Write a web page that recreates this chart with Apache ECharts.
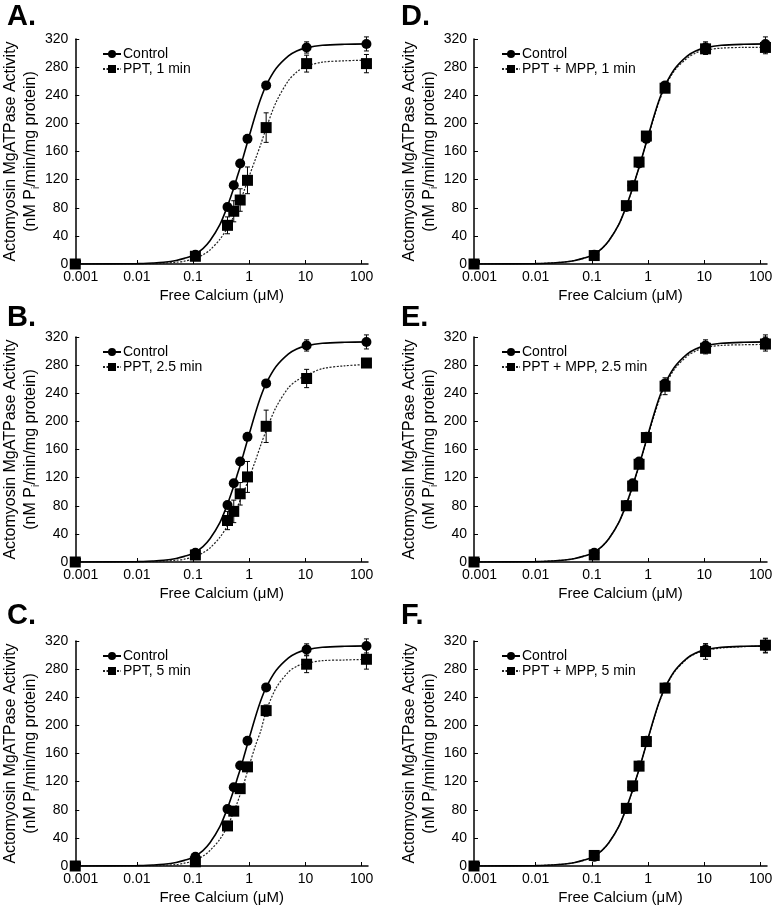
<!DOCTYPE html>
<html>
<head>
<meta charset="utf-8">
<script src="https://cdn.jsdelivr.net/npm/echarts@6/dist/echarts.min.js"></script>
<style>
    html, body { margin: 0; padding: 0; background: #fff; }
    #chart { width: 776px; height: 909px; }
</style>
</head>
<body>
<div id="chart"></div>
<script>
// free calcium (uM) of the measured points; the zero-calcium point sits at the axis start
const concentrations = [0.0008, 0.11, 0.41, 0.53, 0.69, 0.93, 2.0, 10.5, 122];

const controlActivity = [0, 13, 81, 112, 143, 178, 254, 308, 313];
const controlError = [0, 3, 4, 4, 4, 5, 4, 8, 10];

const ppt1Activity = [0, 11, 55, 75, 91, 119, 194, 285, 285];
const ppt1Error = [0, 3, 12, 15, 16, 19, 21, 12, 13];
const ppt25Activity = [0, 10, 59, 72, 97, 121, 193, 261, 283];
const ppt25Error = [0, 3, 13, 16, 16, 22, 23, 13, 3];
const ppt5Activity = [0, 6, 57, 78, 110, 141, 221, 287, 294];
const ppt5Error = [0, 3, 4, 5, 5, 6, 8, 12, 14];
const mpp1Activity = [0, 12, 83, 111, 145, 182, 250, 306, 308];
const mpp1Error = [0, 3, 4, 4, 5, 5, 5, 8, 9];
const mpp25Activity = [0, 10, 80, 108, 139, 177, 250, 304, 310];
const mpp25Error = [0, 3, 4, 4, 5, 5, 12, 8, 10];
const mpp5Activity = [0, 15, 82, 114, 142, 177, 253, 305, 314];
const mpp5Error = [0, 3, 4, 5, 4, 5, 5, 11, 10];

// fitted curves at these calcium levels
const curveX = [0.0008, 0.01, 0.02, 0.03, 0.05, 0.07, 0.1, 0.15, 0.2, 0.3, 0.4, 0.5, 0.6, 0.7, 0.8, 1, 1.3, 1.6, 2, 3, 5, 7, 10, 20, 50, 130];
const controlCurve = [0, 0.5, 1.5, 2.5, 5, 8, 12, 22, 33, 56, 80, 102, 122, 139, 155, 182, 213, 235, 254, 278, 296, 303, 307, 311, 312.5, 313];
const ppt1Curve = [0, 0.2, 0.5, 1, 2.5, 4, 7, 13, 20, 35, 50, 64, 78, 91, 103, 125, 150, 170, 193, 230, 261, 273, 281, 287, 289, 290];
const ppt25Curve = [0, 0.2, 0.5, 1, 2.5, 4, 7, 13, 20, 35, 50, 63, 76, 89, 100, 120, 145, 166, 187, 220, 248, 258, 265, 275, 279, 281];
const ppt5Curve = [0, 0.1, 0.4, 0.8, 2, 4, 7, 14, 22, 38, 55, 72, 88, 103, 117, 143, 172, 192, 220, 253, 276, 284, 288, 292, 293, 294];
const mpp1Curve = [0, 0.5, 1.5, 2.5, 5, 8, 12, 22, 33, 56, 80, 102, 122, 139, 155, 181, 211, 233, 252, 276, 293, 300, 304, 307, 308, 308];
const mpp25Curve = [0, 0.5, 1.5, 2.5, 5, 8, 12, 22, 33, 56, 79, 101, 121, 138, 154, 180, 210, 232, 251, 275, 293, 300, 305, 308, 309, 309.5];
const mpp5Curve = [0, 0.5, 1.5, 2.5, 5, 8, 12, 22, 33, 56, 80, 102, 122, 139, 155, 182, 212, 234, 253, 277, 295, 302, 306, 310, 312, 312.5];

const xTickValues = [0.001, 0.01, 0.1, 1, 10, 100];
const xTickLabels = ["0.001", "0.01", "0.1", "1", "10", "100"];

const panels = [
    { letter: "A.", name: "PPT, 1 min", values: ppt1Activity, errors: ppt1Error, curve: ppt1Curve },
    { letter: "B.", name: "PPT, 2.5 min", values: ppt25Activity, errors: ppt25Error, curve: ppt25Curve },
    { letter: "C.", name: "PPT, 5 min", values: ppt5Activity, errors: ppt5Error, curve: ppt5Curve },
    { letter: "D.", name: "PPT + MPP, 1 min", values: mpp1Activity, errors: mpp1Error, curve: mpp1Curve },
    { letter: "E.", name: "PPT + MPP, 2.5 min", values: mpp25Activity, errors: mpp25Error, curve: mpp25Curve },
    { letter: "F.", name: "PPT + MPP, 5 min", values: mpp5Activity, errors: mpp5Error, curve: mpp5Curve },
];

// layout
const colLeft = [75, 474];
const rowTop = [39, 337, 641];
const letterTop = [2, 303, 601];
const letterLeft = [7, 401];
const plotW = 293;
const plotH = 225;
const font = "'Liberation Sans', Arial, sans-serif";

const toPoints = (xs, ys) => xs.map((x, i) => [x, ys[i]]);
const toBars = (ys, es) =>
    concentrations.map((x, i) => [x, ys[i] - es[i], ys[i] + es[i]]).filter((d, i) => es[i] > 0);

function renderErrorBar(params, api) {
    const x = api.value(0);
    const lo = api.coord([x, api.value(1)]);
    const hi = api.coord([x, api.value(2)]);
    const cap = 2.5;
    const style = { stroke: "#000", lineWidth: 1 };
    return {
        type: "group",
        children: [
            { type: "line", shape: { x1: lo[0], y1: lo[1], x2: hi[0], y2: hi[1] }, style },
            { type: "line", shape: { x1: lo[0] - cap, y1: lo[1], x2: lo[0] + cap, y2: lo[1] }, style },
            { type: "line", shape: { x1: hi[0] - cap, y1: hi[1], x2: hi[0] + cap, y2: hi[1] }, style },
        ],
    };
}

const option = {
    backgroundColor: "#fff",
    animation: false,
    textStyle: { fontFamily: font, color: "#000" },
    grid: [],
    xAxis: [],
    yAxis: [],
    legend: [],
    series: [],
    graphic: [],
};

panels.forEach((p, i) => {
    const col = Math.floor(i / 3);
    const row = i % 3;
    option.grid.push({ left: colLeft[col], top: rowTop[row], width: plotW, height: plotH });
    option.xAxis.push({
        type: "log",
        gridIndex: i,
        min: 0.0008,
        max: 130,
        name: "Free Calcium (μM)",
        nameLocation: "middle",
        nameGap: 24,
        nameTextStyle: { fontSize: 15, color: "#000", fontFamily: font },
        axisLine: { lineStyle: { color: "#000", width: 1.5 } },
        axisTick: { inside: true, length: 4, lineStyle: { color: "#000" }, customValues: xTickValues },
        axisLabel: {
            fontSize: 14,
            color: "#000",
            margin: 6,
            customValues: xTickValues,
            formatter: (v) => {
                const k = xTickValues.findIndex((t) => Math.abs(t - v) / t < 1e-6);
                return k < 0 ? "" : xTickLabels[k];
            },
        },
        splitLine: { show: false },
    });
    option.yAxis.push({
        type: "value",
        gridIndex: i,
        min: 0,
        max: 320,
        interval: 40,
        name: "Actomyosin MgATPase Activity\n(nM P{sub|i}/min/mg protein)",
        nameLocation: "middle",
        nameRotate: 90,
        nameGap: 32,
        nameTextStyle: {
            fontSize: 16,
            lineHeight: 20,
            color: "#000",
            fontFamily: font,
            rich: { sub: { fontSize: 10, lineHeight: 20, verticalAlign: "bottom", fontFamily: font, color: "#000" } },
        },
        axisLine: { show: true, lineStyle: { color: "#000", width: 1.5 } },
        axisTick: { show: true, inside: true, length: 4, lineStyle: { color: "#000" } },
        axisLabel: { fontSize: 14, color: "#000", margin: 7 },
        splitLine: { show: false },
    });
    option.legend.push({
        data: ["Control", p.name],
        orient: "vertical",
        left: colLeft[col] + 22,
        top: rowTop[row] + 3,
        itemWidth: 18,
        itemHeight: 10,
        itemGap: 1,
        selectedMode: false,
        textStyle: { fontSize: 14, color: "#000", fontFamily: font, padding: [0, 0, 0, -3] },
    });
    option.graphic.push({
        type: "text",
        left: letterLeft[col],
        top: letterTop[row],
        style: { text: p.letter, font: "bold 29px " + font, fill: "#000" },
    });

    option.series.push(
        {
            name: "Control",
            type: "line",
            xAxisIndex: i,
            yAxisIndex: i,
            data: toPoints(curveX, controlCurve),
            smooth: 0.3,
            showSymbol: false,
            symbol: "circle",
            symbolSize: 10,
            itemStyle: { color: "#000" },
            lineStyle: { color: "#000", width: 1.6 },
            z: 3,
        },
        {
            name: p.name,
            type: "line",
            xAxisIndex: i,
            yAxisIndex: i,
            data: toPoints(curveX, p.curve),
            smooth: 0.3,
            showSymbol: false,
            symbol: "rect",
            symbolSize: 10,
            itemStyle: { color: "#000" },
            lineStyle: { color: "#222", width: 1.2, type: [2, 1.5] },
            z: 2,
        },
        {
            name: "Control",
            type: "custom",
            xAxisIndex: i,
            yAxisIndex: i,
            renderItem: renderErrorBar,
            encode: { x: 0, y: [1, 2] },
            data: toBars(controlActivity, controlError),
            clip: false,
            z: 4,
        },
        {
            name: p.name,
            type: "custom",
            xAxisIndex: i,
            yAxisIndex: i,
            renderItem: renderErrorBar,
            encode: { x: 0, y: [1, 2] },
            data: toBars(p.values, p.errors),
            clip: false,
            z: 4,
        },
        {
            name: "Control",
            type: "scatter",
            xAxisIndex: i,
            yAxisIndex: i,
            data: toPoints(concentrations, controlActivity),
            symbol: "circle",
            symbolSize: 10,
            itemStyle: { color: "#000", opacity: 1 },
            clip: false,
            z: 5,
        },
        {
            name: p.name,
            type: "scatter",
            xAxisIndex: i,
            yAxisIndex: i,
            data: toPoints(concentrations, p.values),
            symbol: "rect",
            symbolSize: 11,
            itemStyle: { color: "#000", opacity: 1 },
            clip: false,
            z: 5,
        }
    );
});

const chart = echarts.init(document.getElementById("chart"), null, { renderer: "canvas" });
chart.setOption(option);
</script>
</body>
</html>
